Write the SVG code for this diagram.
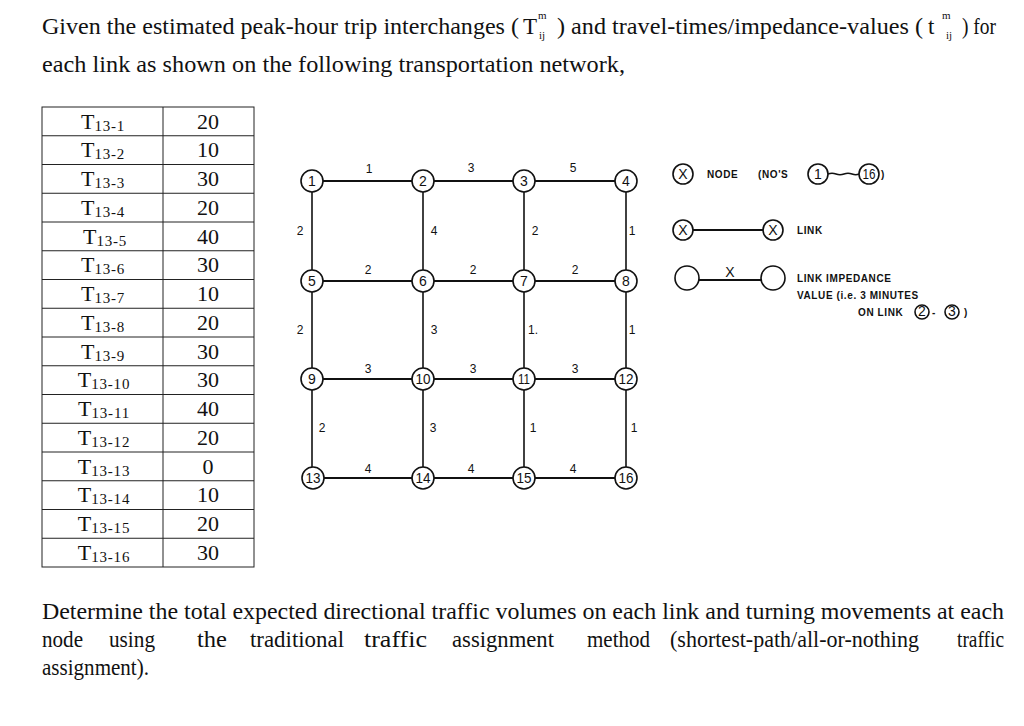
<svg xmlns="http://www.w3.org/2000/svg" width="1024" height="726" viewBox="0 0 1024 726">
<style>
.tx{font-family:"Liberation Serif","Times New Roman",serif;fill:#111;}
.hd{font-size:23px;}
.sm{font-size:11px;}
.tb{font-size:22px;}
.tbs{font-size:15px;letter-spacing:0.8px;}
.cell{fill:none;stroke:#222;stroke-width:1;}
.nd{fill:#fff;stroke:#111;stroke-width:1.6;}
.nl{font-family:"Liberation Sans",Arial,sans-serif;font-size:14px;fill:#111;text-anchor:middle;}
.lk{stroke:#111;fill:none;}
.h{stroke-width:2.2;}
.v{stroke-width:1.6;}
.ll{font-family:"Liberation Sans",Arial,sans-serif;font-size:12px;fill:#111;text-anchor:middle;}
.lg{font-family:"Liberation Sans",Arial,sans-serif;font-size:10px;font-weight:bold;fill:#111;letter-spacing:0.6px;}
</style>
<rect width="1024" height="726" fill="#fff"/>

<g id="header">
<text class="tx hd" x="42" y="34" textLength="477" lengthAdjust="spacingAndGlyphs">Given the estimated peak-hour trip interchanges (</text>
<text class="tx hd" x="523" y="34">T</text>
<text class="tx sm" x="538" y="19">m</text>
<text class="tx sm" x="539" y="39">ij</text>
<text class="tx hd" x="557" y="34" textLength="366" lengthAdjust="spacingAndGlyphs">) and travel-times/impedance-values (</text>
<text class="tx hd" x="928" y="34">t</text>
<text class="tx sm" x="942" y="19">m</text>
<text class="tx sm" x="946" y="39">ij</text>
<text class="tx hd" x="962" y="34" textLength="34" lengthAdjust="spacingAndGlyphs">) for</text>
<text class="tx hd" x="42" y="72" textLength="583" lengthAdjust="spacingAndGlyphs">each link as shown on the following transportation network,</text>
</g>

<g id="table">
<rect class="cell" x="42" y="107" width="212" height="460"/>
<line class="cell" x1="163" y1="107" x2="163" y2="567"/>
<line class="cell" x1="42" y1="135.75" x2="254" y2="135.75"/>
<line class="cell" x1="42" y1="164.5" x2="254" y2="164.5"/>
<line class="cell" x1="42" y1="193.25" x2="254" y2="193.25"/>
<line class="cell" x1="42" y1="222" x2="254" y2="222"/>
<line class="cell" x1="42" y1="250.75" x2="254" y2="250.75"/>
<line class="cell" x1="42" y1="279.5" x2="254" y2="279.5"/>
<line class="cell" x1="42" y1="308.25" x2="254" y2="308.25"/>
<line class="cell" x1="42" y1="337" x2="254" y2="337"/>
<line class="cell" x1="42" y1="365.75" x2="254" y2="365.75"/>
<line class="cell" x1="42" y1="394.5" x2="254" y2="394.5"/>
<line class="cell" x1="42" y1="423.25" x2="254" y2="423.25"/>
<line class="cell" x1="42" y1="452" x2="254" y2="452"/>
<line class="cell" x1="42" y1="480.75" x2="254" y2="480.75"/>
<line class="cell" x1="42" y1="509.5" x2="254" y2="509.5"/>
<line class="cell" x1="42" y1="538.25" x2="254" y2="538.25"/>
<g text-anchor="middle">
<text class="tx tb" x="103" y="128.5">T<tspan class="tbs" dy="2">13-1</tspan></text>
<text class="tx tb" x="103" y="157.25">T<tspan class="tbs" dy="2">13-2</tspan></text>
<text class="tx tb" x="103" y="186">T<tspan class="tbs" dy="2">13-3</tspan></text>
<text class="tx tb" x="103" y="214.75">T<tspan class="tbs" dy="2">13-4</tspan></text>
<text class="tx tb" x="105" y="243.5">T<tspan class="tbs" dy="2">13-5</tspan></text>
<text class="tx tb" x="103" y="272.25">T<tspan class="tbs" dy="2">13-6</tspan></text>
<text class="tx tb" x="103" y="301">T<tspan class="tbs" dy="2">13-7</tspan></text>
<text class="tx tb" x="103" y="329.75">T<tspan class="tbs" dy="2">13-8</tspan></text>
<text class="tx tb" x="103" y="358.5">T<tspan class="tbs" dy="2">13-9</tspan></text>
<text class="tx tb" x="104" y="387.25">T<tspan class="tbs" dy="2">13-10</tspan></text>
<text class="tx tb" x="104" y="416">T<tspan class="tbs" dy="2">13-11</tspan></text>
<text class="tx tb" x="104" y="444.75">T<tspan class="tbs" dy="2">13-12</tspan></text>
<text class="tx tb" x="104" y="473.5">T<tspan class="tbs" dy="2">13-13</tspan></text>
<text class="tx tb" x="104" y="502.25">T<tspan class="tbs" dy="2">13-14</tspan></text>
<text class="tx tb" x="104" y="531">T<tspan class="tbs" dy="2">13-15</tspan></text>
<text class="tx tb" x="104" y="559.75">T<tspan class="tbs" dy="2">13-16</tspan></text>
<text class="tx tb" x="208" y="128.5">20</text>
<text class="tx tb" x="208" y="157.25">10</text>
<text class="tx tb" x="208" y="186">30</text>
<text class="tx tb" x="208" y="214.75">20</text>
<text class="tx tb" x="208" y="243.5">40</text>
<text class="tx tb" x="208" y="272.25">30</text>
<text class="tx tb" x="208" y="301">10</text>
<text class="tx tb" x="208" y="329.75">20</text>
<text class="tx tb" x="208" y="358.5">30</text>
<text class="tx tb" x="208" y="387.25">30</text>
<text class="tx tb" x="208" y="416">40</text>
<text class="tx tb" x="208" y="444.75">20</text>
<text class="tx tb" x="208" y="473.5">0</text>
<text class="tx tb" x="208" y="502.25">10</text>
<text class="tx tb" x="208" y="531">20</text>
<text class="tx tb" x="208" y="559.75">30</text>
</g>
</g>

<g id="connectors">
<line class="lk h" x1="312" y1="181" x2="626" y2="181"/>
<line class="lk h" x1="312" y1="281" x2="626" y2="281"/>
<line class="lk h" x1="312" y1="379" x2="626" y2="379"/>
<line class="lk h" x1="312" y1="478" x2="626" y2="478"/>
<line class="lk v" x1="312" y1="181" x2="312" y2="478"/>
<line class="lk v" x1="423" y1="181" x2="423" y2="478"/>
<line class="lk v" x1="524" y1="181" x2="524" y2="478"/>
<line class="lk v" x1="626" y1="181" x2="626" y2="478"/>
</g>

<g id="link-labels">
<text class="ll" x="369" y="173">1</text>
<text class="ll" x="471" y="172">3</text>
<text class="ll" x="573" y="172">5</text>
<text class="ll" x="300" y="235">2</text>
<text class="ll" x="434" y="235">4</text>
<text class="ll" x="535" y="235">2</text>
<text class="ll" x="632" y="235">1</text>
<text class="ll" x="368" y="274">2</text>
<text class="ll" x="473" y="274">2</text>
<text class="ll" x="575" y="274">2</text>
<text class="ll" x="300" y="334">2</text>
<text class="ll" x="434" y="334">3</text>
<text class="ll" x="533" y="334">1.</text>
<text class="ll" x="632" y="334">1</text>
<text class="ll" x="368" y="373">3</text>
<text class="ll" x="473" y="373">3</text>
<text class="ll" x="575" y="373">3</text>
<text class="ll" x="322" y="432">2</text>
<text class="ll" x="433" y="432">3</text>
<text class="ll" x="533" y="432">1</text>
<text class="ll" x="634" y="432">1</text>
<text class="ll" x="368" y="473">4</text>
<text class="ll" x="471" y="473">4</text>
<text class="ll" x="573" y="473">4</text>
</g>

<g id="node1"><circle class="nd" cx="312" cy="181" r="11"/><text class="nl" x="312" y="186">1</text></g>
<g id="node2"><circle class="nd" cx="423" cy="181" r="11"/><text class="nl" x="423" y="186">2</text></g>
<g id="node3"><circle class="nd" cx="524" cy="181" r="11"/><text class="nl" x="524" y="186">3</text></g>
<g id="node4"><circle class="nd" cx="626" cy="181" r="11"/><text class="nl" x="626" y="186">4</text></g>
<g id="node5"><circle class="nd" cx="312" cy="281" r="11"/><text class="nl" x="312" y="286">5</text></g>
<g id="node6"><circle class="nd" cx="423" cy="281" r="11"/><text class="nl" x="423" y="286">6</text></g>
<g id="node7"><circle class="nd" cx="524" cy="281" r="11"/><text class="nl" x="524" y="286">7</text></g>
<g id="node8"><circle class="nd" cx="626" cy="281" r="11"/><text class="nl" x="626" y="286">8</text></g>
<g id="node9"><circle class="nd" cx="312" cy="379" r="11"/><text class="nl" x="312" y="384">9</text></g>
<g id="node10"><circle class="nd" cx="423" cy="379" r="11"/><text class="nl" x="423" y="384" textLength="15" lengthAdjust="spacingAndGlyphs">10</text></g>
<g id="node11"><circle class="nd" cx="524" cy="379" r="11"/><text class="nl" x="524" y="384" textLength="12" lengthAdjust="spacingAndGlyphs">11</text></g>
<g id="node12"><circle class="nd" cx="626" cy="379" r="11"/><text class="nl" x="626" y="384" textLength="15" lengthAdjust="spacingAndGlyphs">12</text></g>
<g id="node13"><circle class="nd" cx="313" cy="478" r="11"/><text class="nl" x="313" y="483" textLength="15" lengthAdjust="spacingAndGlyphs">13</text></g>
<g id="node14"><circle class="nd" cx="423" cy="478" r="11"/><text class="nl" x="423" y="483" textLength="15" lengthAdjust="spacingAndGlyphs">14</text></g>
<g id="node15"><circle class="nd" cx="524" cy="478" r="11"/><text class="nl" x="524" y="483" textLength="15" lengthAdjust="spacingAndGlyphs">15</text></g>
<g id="node16"><circle class="nd" cx="626" cy="478" r="11"/><text class="nl" x="626" y="483" textLength="15" lengthAdjust="spacingAndGlyphs">16</text></g>

<g id="legend">
<circle class="nd" cx="683" cy="174" r="10"/><text class="nl" x="683" y="179">X</text>
<text class="lg" x="707" y="178">NODE</text>
<text class="lg" x="758" y="178">(NO'S</text>
<circle class="nd" cx="818" cy="174" r="10"/><text class="nl" x="818" y="179">1</text>
<path class="lk" stroke-width="1.4" d="M828 174 q4 -1.5 8 0 t8 0 t8 0 t7 0"/>
<circle class="nd" cx="869" cy="174" r="10"/><text class="nl" x="869" y="179" textLength="13" lengthAdjust="spacingAndGlyphs">16</text>
<text class="lg" x="881" y="178">)</text>

<line class="lk h" x1="693" y1="230" x2="763" y2="230"/>
<circle class="nd" cx="683" cy="230" r="10"/><text class="nl" x="683" y="235">X</text>
<circle class="nd" cx="773" cy="230" r="10"/><text class="nl" x="773" y="235">X</text>
<text class="lg" x="797" y="234">LINK</text>

<line class="lk h" x1="699" y1="280" x2="761" y2="280"/>
<circle class="nd" cx="687" cy="278" r="12"/>
<circle class="nd" cx="773" cy="278" r="12"/>
<text class="nl" x="730" y="277">X</text>
<text class="lg" x="797" y="282">LINK IMPEDANCE</text>
<text class="lg" x="797" y="299">VALUE (i.e. 3 MINUTES</text>
<text class="lg" x="858" y="316">ON LINK</text>
<circle class="nd" cx="922" cy="312" r="7" stroke-width="1.2"/><text class="nl" x="922" y="316" font-size="10">2</text>
<text class="lg" x="932" y="316">-</text>
<circle class="nd" cx="952" cy="312" r="7" stroke-width="1.2"/><text class="nl" x="952" y="316" font-size="10">3</text>
<text class="lg" x="964" y="316">)</text>
</g>

<g id="question">
<text class="tx" font-size="24" x="42" y="619" textLength="962" lengthAdjust="spacingAndGlyphs">Determine the total expected directional traffic volumes on each link and turning movements at each</text>
<g font-size="24">
<text class="tx" x="42" y="647" textLength="41" lengthAdjust="spacingAndGlyphs">node</text>
<text class="tx" x="109" y="647" textLength="46" lengthAdjust="spacingAndGlyphs">using</text>
<text class="tx" x="197" y="647" textLength="30" lengthAdjust="spacingAndGlyphs">the</text>
<text class="tx" x="250" y="647" textLength="94" lengthAdjust="spacingAndGlyphs">traditional</text>
<text class="tx" x="364" y="647" textLength="63" lengthAdjust="spacingAndGlyphs">traffic</text>
<text class="tx" x="452" y="647" textLength="102" lengthAdjust="spacingAndGlyphs">assignment</text>
<text class="tx" x="587" y="647" textLength="63" lengthAdjust="spacingAndGlyphs">method</text>
<text class="tx" x="670" y="647" textLength="249" lengthAdjust="spacingAndGlyphs">(shortest-path/all-or-nothing</text>
<text class="tx" x="957" y="647" textLength="47" lengthAdjust="spacingAndGlyphs">traffic</text>
</g>
<text class="tx" font-size="24" x="42" y="675" textLength="107" lengthAdjust="spacingAndGlyphs">assignment).</text>
</g>
</svg>
